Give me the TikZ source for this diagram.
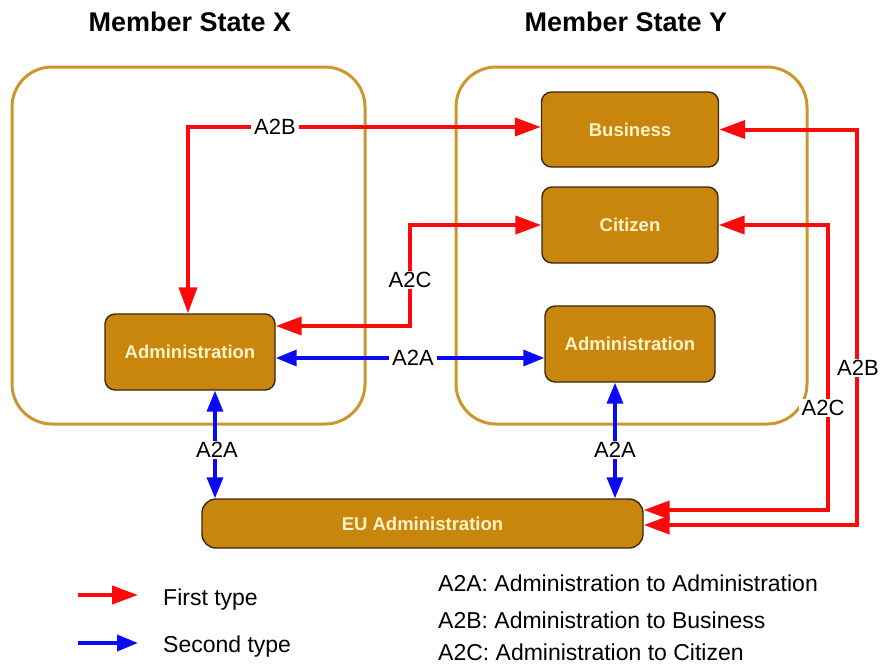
\documentclass[tikz,border=0pt]{standalone}
\usepackage{fontspec}
\setmainfont{Liberation Sans}
\usetikzlibrary{arrows.meta}
\definecolor{boxfill}{RGB}{200,134,12}
\definecolor{boxline}{RGB}{60,40,15}
\definecolor{contcol}{RGB}{205,150,45}
\definecolor{cream}{RGB}{255,243,200}
\definecolor{rd}{RGB}{250,10,10}
\definecolor{bl}{RGB}{10,10,245}
\tikzset{
  cont/.style={draw=contcol, line width=3pt, rounded corners=40pt},
  box/.style={draw=boxline, fill=boxfill, line width=1.4pt, rounded corners=10pt,
    text=cream, font=\fontsize{18.5}{20}\selectfont\bfseries, inner sep=0pt},
  title/.style={font=\fontsize{27}{29}\selectfont\bfseries},
  lab/.style={fill=white, inner xsep=3pt, inner ysep=1pt, font=\fontsize{22}{24}\selectfont},
  legtext/.style={anchor=west, font=\fontsize{23}{25}\selectfont, inner sep=0pt},
  redtip/.tip={Triangle[length=26pt,width=18pt]},
  bluetip/.tip={Triangle[length=21pt,width=16pt]},
  redarr/.style={draw=rd, line width=4pt, {redtip}-{redtip}},
  bluearr/.style={draw=bl, line width=3.5pt, {bluetip}-{bluetip}},
  redone/.style={draw=rd, line width=4pt, -{redtip}},
  blueone/.style={draw=bl, line width=3.5pt, -{bluetip}},
}
\begin{document}
\begin{tikzpicture}[x=1pt,y=-1pt]
\useasboundingbox (0,0) rectangle (884,665);
% titles
\node[title] (tX) at (190,22) {Member State X};
\node[title] (tY) at (626,22) {Member State Y};
% containers
\draw[cont] (12,67) rectangle (365,424);
\draw[cont] (456,67) rectangle (807,424);
% boxes
\node[box, minimum width=177pt, minimum height=75pt] (Bus) at (630,129.5) {Business};
\node[box, minimum width=176pt, minimum height=76pt] (Cit) at (630,225) {Citizen};
\node[box, minimum width=170pt, minimum height=76pt] (AdmY) at (630,344) {Administration};
\node[box, minimum width=170pt, minimum height=76pt] (AdmX) at (190,352) {Administration};
\node[box, minimum width=441pt, minimum height=49pt, rounded corners=14pt] (EU) at (422.5,523.5) {EU Administration};
% helper coordinates
\coordinate (a2bTop) at (188,127);
\coordinate (a2cMid) at (410,326);
\coordinate (a2aMid) at (0,358);
\coordinate (xL) at (215,0);
\coordinate (xR) at (615,0);
\coordinate (a2cR) at (828,510);
\coordinate (a2bR) at (857,525);
% connectors
\draw[redarr] (AdmX.north -| a2bTop) |- (Bus.west |- a2bTop);
\draw[redarr] (Cit.west) -| (a2cMid) -- (AdmX.east |- a2cMid);
\draw[bluearr] (AdmX.east |- a2aMid) -- (AdmY.west |- a2aMid);
\draw[bluearr] (AdmX.south -| xL) -- (EU.north -| xL);
\draw[bluearr] (AdmY.south -| xR) -- (EU.north -| xR);
\draw[redarr] (Cit.east) -| (a2cR) -- (EU.east |- a2cR);
\draw[redarr] (Bus.east) -| (a2bR) -- (EU.east |- a2bR);
% labels
\node[lab] (l1) at (275,127) {A2B};
\node[lab] (l2) at (410,280) {A2C};
\node[lab] (l3) at (413,358) {A2A};
\node[lab] (l4) at (217,450) {A2A};
\node[lab] (l5) at (615,450) {A2A};
\node[lab] (l6) at (823,408) {A2C};
\node[lab] (l7) at (858,368) {A2B};
% legend
\coordinate (lr1) at (78,595);
\coordinate (lr2) at (138,595);
\coordinate (lb1) at (78,643);
\coordinate (lb2) at (138,643);
\draw[redone] (lr1) -- (lr2);
\draw[blueone] (lb1) -- (lb2);
\node[legtext] (t1) at (163,600) {First type};
\node[legtext] (t2) at (163,647) {Second type};
\node[legtext] (t3) at (438,583) {A2A: Administration to Administration};
\node[legtext] (t4) at (438,620) {A2B: Administration to Business};
\node[legtext] (t5) at (438,652) {A2C: Administration to Citizen};
\end{tikzpicture}
\end{document}
